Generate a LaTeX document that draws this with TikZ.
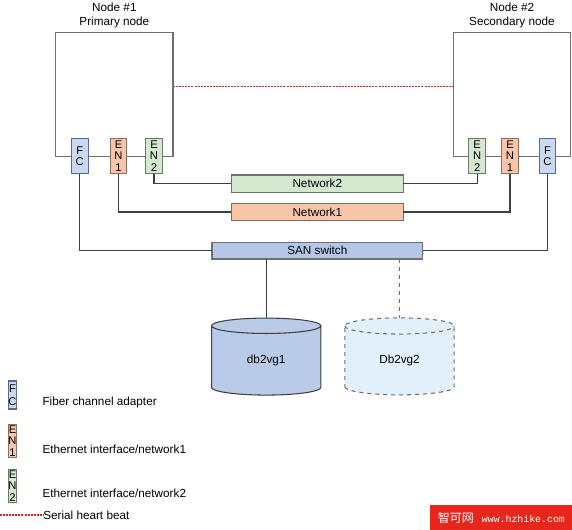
\documentclass[tikz,border=0pt]{standalone}
\usepackage{fontspec}
\setmainfont{Liberation Sans}
\newfontfamily\cjkfont{Noto Sans CJK SC}
\newfontfamily\wmmono{Liberation Mono}
\usetikzlibrary{shapes.geometric}
\definecolor{hostgray}{HTML}{707070}
\definecolor{wireclr}{HTML}{404040}
\definecolor{fcfill}{HTML}{C9D9F2}
\definecolor{fcline}{HTML}{5B6B85}
\definecolor{enafill}{HTML}{F8C5A8}
\definecolor{enaline}{HTML}{8B6F60}
\definecolor{enbfill}{HTML}{D4E8D0}
\definecolor{enbline}{HTML}{6B7A6A}
\definecolor{sanfill}{HTML}{B4C7E7}
\definecolor{dbafill}{HTML}{B9CBE8}
\definecolor{dbbfill}{HTML}{E1F0FB}
\definecolor{beatred}{HTML}{E0202A}
\definecolor{wmred}{HTML}{E8261C}

\begin{document}
\begin{tikzpicture}[x=0.75pt,y=-0.75pt,font=\fontsize{8.8}{10.5}\selectfont,
  host/.style={draw=hostgray,line width=1.1pt,anchor=north west,inner sep=0pt,outer sep=0pt,minimum width=88pt,minimum height=93.3pt},
  port/.style={line width=0.8pt,inner sep=0pt,outer sep=0pt,align=center,font=\fontsize{8.4}{8.6}\selectfont,minimum width=12.5pt,minimum height=26.5pt},
  fcport/.style={port,draw=fcline,fill=fcfill},
  enaport/.style={port,draw=enaline,fill=enafill},
  enbport/.style={port,draw=enbline,fill=enbfill},
  keyport/.style={minimum width=6.2pt,minimum height=25pt},
  netbox/.style={draw=hostgray,line width=0.8pt,inner sep=0pt,outer sep=0pt,minimum width=129pt,minimum height=13pt},
  wire/.style={draw=wireclr,line width=0.8pt},
  heartbeat/.style={draw=beatred,line width=0.9pt,dash pattern=on 1.5pt off 0.8pt},
  disk/.style={cylinder,shape border rotate=90,aspect=0.4,minimum width=82pt,minimum height=57.75pt,inner sep=0pt,outer sep=0pt,line width=0.8pt}]
\useasboundingbox (0,0) rectangle (572,530);

\node[host] (host1) at (55.7,32.3) {};
\node[host] (host2) at (453.3,32.3) {};
\node[align=center,anchor=south,inner sep=3pt] (host1lbl) at (host1.north) {Node \#1\\Primary node};
\node[align=center,anchor=south,inner sep=3pt] (host2lbl) at (host2.north) {Node \#2\\Secondary node};

\node[fcport] (fc1) at (79.7,156) {F\\C};
\node[enaport] (ena1) at (118.5,156) {E\\N\\1};
\node[enbport] (enb1) at (154,156) {E\\N\\2};
\node[enbport] (enb2) at (477.2,156) {E\\N\\2};
\node[enaport] (ena2) at (510,156) {E\\N\\1};
\node[fcport] (fc2) at (547.5,156) {F\\C};

\draw[heartbeat] ([yshift=5.85pt]host1.east) -- ([yshift=5.85pt]host2.west);

\node[netbox,fill=enbfill] (net2) at (317.3,183.7) {Network2};
\node[netbox,fill=enafill] (net1) at (317.3,212) {Network1};
\node[netbox,fill=sanfill,minimum width=158pt,minimum height=12.5pt] (san) at (317.3,250.7) {SAN switch};

\draw[wire] (enb1.south) |- (net2.west);
\draw[wire] (enb2.south) |- (net2.east);
\draw[wire] (ena1.south) |- (net1.west);
\draw[wire] (ena2.south) |- (net1.east);
\draw[wire] (fc1.south) |- (san.west);
\draw[wire] (fc2.south) |- (san.east);

\node[disk,draw=wireclr,fill=dbafill] (dba) at (266.2,360.7) {db2vg1};
\node[disk,draw=hostgray,dashed,fill=dbbfill] (dbb) at (399.5,360.7) {Db2vg2};
\draw[wire] (san.south -| dba.north) -- (dba.north);
\draw[wire,dashed,draw=hostgray] (san.south -| dbb.north) -- (dbb.north);

\node[fcport,keyport,minimum height=21pt] (keyfc) at (12.5,395) {F\\[1.5pt]C};
\node[enaport,keyport] (keyena) at (12.5,441) {E\\N\\1};
\node[enbport,keyport] (keyenb) at (12.5,486) {E\\N\\2};
\node[anchor=west,inner sep=0pt] (keyfctxt) at (42.3,402.3) {Fiber channel adapter};
\node[anchor=west,inner sep=0pt] (keyenatxt) at (42.3,449) {Ethernet interface/network1};
\node[anchor=west,inner sep=0pt] (keyenbtxt) at (42.3,493.3) {Ethernet interface/network2};
\node[anchor=west,inner sep=0pt] (keybeattxt) at (43,515) {Serial heart beat};
\coordinate (keybeat) at (0,515);
\draw[heartbeat] (keybeat) -- (keybeattxt.west);

\node[fill=wmred,anchor=north west,inner sep=0pt,minimum width=106.5pt,minimum height=18.75pt] (wm) at (430,505) {};
\node[anchor=west,inner sep=0pt,text=white] (wmtxt) at (437.7,517.5) {{\cjkfont\fontsize{9}{9}\selectfont 智可网}\hspace{6pt}{\wmmono\fontsize{7.4}{7.4}\selectfont www.hzhike.com}};
\end{tikzpicture}
\end{document}
